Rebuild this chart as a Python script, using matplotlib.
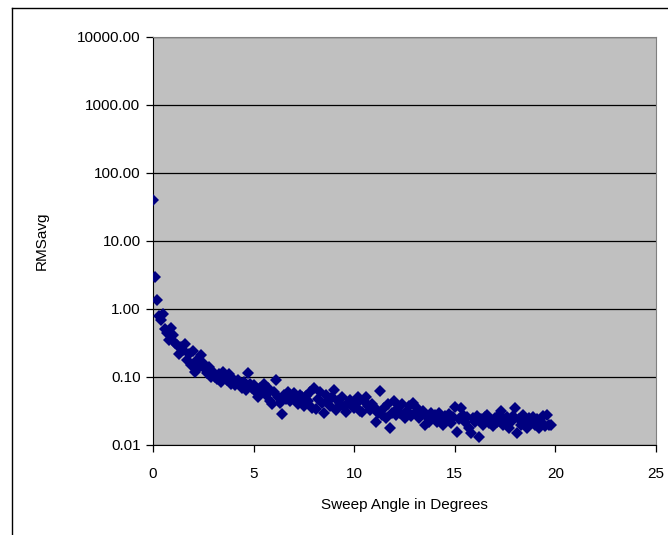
import matplotlib
matplotlib.use("Agg")
from matplotlib import pyplot as plt
from matplotlib.lines import Line2D
from matplotlib.ticker import FixedLocator, FuncFormatter

plt.rcParams['font.family'] = ['Liberation Sans', 'DejaVu Sans']

# sweep angle (degrees) and averaged RMS
sweep_angle = [
    0.0, 0.1, 0.2, 0.3, 0.4, 0.5, 0.6, 0.7, 0.8, 0.9,
    1.0, 1.1, 1.2, 1.3, 1.4, 1.5, 1.6, 1.7, 1.8, 1.9,
    2.0, 2.1, 2.2, 2.3, 2.4, 2.5, 2.6, 2.7, 2.8, 2.9,
    3.0, 3.1, 3.2, 3.3, 3.4, 3.5, 3.6, 3.7, 3.8, 3.9,
    4.0, 4.1, 4.2, 4.3, 4.4, 4.5, 4.6, 4.7, 4.8, 4.9,
    5.0, 5.1, 5.2, 5.3, 5.4, 5.5, 5.6, 5.7, 5.8, 5.9,
    6.0, 6.1, 6.2, 6.3, 6.4, 6.5, 6.6, 6.7, 6.8, 6.9,
    7.0, 7.1, 7.2, 7.3, 7.4, 7.5, 7.6, 7.7, 7.8, 7.9,
    8.0, 8.1, 8.2, 8.3, 8.4, 8.5, 8.6, 8.7, 8.8, 8.9,
    9.0, 9.1, 9.2, 9.3, 9.4, 9.5, 9.6, 9.7, 9.8, 9.9,
    10.0, 10.1, 10.2, 10.3, 10.4, 10.5, 10.6, 10.7, 10.8, 10.9,
    11.0, 11.1, 11.2, 11.3, 11.4, 11.5, 11.6, 11.7, 11.8, 11.9,
    12.0, 12.1, 12.2, 12.3, 12.4, 12.5, 12.6, 12.7, 12.8, 12.9,
    13.0, 13.1, 13.2, 13.3, 13.4, 13.5, 13.6, 13.7, 13.8, 13.9,
    14.0, 14.1, 14.2, 14.3, 14.4, 14.5, 14.6, 14.7, 14.8, 14.9,
    15.0, 15.1, 15.2, 15.3, 15.4, 15.5, 15.6, 15.7, 15.8, 15.9,
    16.0, 16.1, 16.2, 16.3, 16.4, 16.5, 16.6, 16.7, 16.8, 16.9,
    17.0, 17.1, 17.2, 17.3, 17.4, 17.5, 17.6, 17.7, 17.8, 17.9,
    18.0, 18.1, 18.2, 18.3, 18.4, 18.5, 18.6, 18.7, 18.8, 18.9,
    19.0, 19.1, 19.2, 19.3, 19.4, 19.5, 19.6, 19.7, 19.8,
]
rms_avg = [
    40.0, 3.0, 1.35, 0.80, 0.70, 0.85, 0.50, 0.45, 0.35, 0.52,
    0.42, 0.32, 0.30, 0.22, 0.28, 0.25, 0.31, 0.18, 0.22, 0.15,
    0.24, 0.12, 0.18, 0.14, 0.21, 0.16, 0.13, 0.115, 0.14, 0.10,
    0.12, 0.10, 0.095, 0.11, 0.085, 0.12, 0.10, 0.09, 0.11, 0.08,
    0.095, 0.075, 0.09, 0.08, 0.07, 0.085, 0.065, 0.115, 0.08, 0.07,
    0.075, 0.06, 0.051, 0.07, 0.062, 0.08, 0.055, 0.068, 0.045, 0.04,
    0.06, 0.09, 0.05, 0.042, 0.029, 0.055, 0.048, 0.06, 0.045, 0.052,
    0.058, 0.047, 0.04, 0.055, 0.05, 0.038, 0.052, 0.045, 0.06, 0.035,
    0.069, 0.034, 0.048, 0.06, 0.042, 0.03, 0.055, 0.045, 0.038, 0.05,
    0.064, 0.033, 0.045, 0.04, 0.05, 0.036, 0.031, 0.042, 0.046, 0.038,
    0.035, 0.04, 0.05, 0.032, 0.031, 0.045, 0.05, 0.038, 0.033, 0.04,
    0.036, 0.022, 0.03, 0.062, 0.028, 0.035, 0.025, 0.04, 0.018, 0.03,
    0.045, 0.028, 0.035, 0.03, 0.04, 0.025, 0.032, 0.038, 0.027, 0.042,
    0.03, 0.035, 0.025, 0.028, 0.032, 0.02, 0.026, 0.022, 0.03, 0.025,
    0.028, 0.022, 0.03, 0.025, 0.02, 0.027, 0.024, 0.029, 0.021, 0.026,
    0.036, 0.0155, 0.024, 0.035, 0.028, 0.022, 0.026, 0.018, 0.015, 0.025,
    0.022, 0.027, 0.013, 0.024, 0.02, 0.026, 0.028, 0.021, 0.023, 0.019,
    0.025, 0.022, 0.028, 0.032, 0.02, 0.024, 0.026, 0.018, 0.022, 0.027,
    0.035, 0.015, 0.024, 0.02, 0.028, 0.022, 0.018, 0.025, 0.021, 0.026,
    0.02, 0.024, 0.018, 0.022, 0.027, 0.019, 0.028, 0.02, 0.0196,
]

x_ticks = [0, 5, 10, 15, 20, 25]
y_ticks = [0.01, 0.1, 1, 10, 100, 1000, 10000]

fig = plt.figure(figsize=(6.68, 5.35), dpi=100)
W, H = 668, 535
ax = fig.add_axes([153 / W, 1 - 445 / H, (656 - 153) / W, (445 - 37) / H])
ax.set_facecolor('#c0c0c0')

ax.plot(sweep_angle, rms_avg, linestyle='none', marker='D', markersize=6.2,
        color='#000080', markeredgewidth=0, zorder=3)

ax.set_yscale('log')
ax.set_xlim(0, 25)
ax.set_ylim(0.01, 10000)
ax.xaxis.set_major_locator(FixedLocator(x_ticks))
ax.yaxis.set_major_locator(FixedLocator(y_ticks))
ax.yaxis.set_minor_locator(FixedLocator([]))
ax.yaxis.set_major_formatter(FuncFormatter(lambda v, p: f'{v:.2f}'))
ax.grid(axis='y', color='black', linewidth=0.9)
ax.set_axisbelow(True)

ax.tick_params(direction='out', length=5, width=0.9, color='black',
               labelsize=11, pad=4)
ax.tick_params(axis='x', pad=11)
for side in ['top', 'right']:
    ax.spines[side].set_color('#808080')
for side in ['left', 'bottom']:
    ax.spines[side].set_color('black')

ax.set_xlabel('Sweep Angle in Degrees', fontsize=11, labelpad=12)
ax.set_ylabel('RMSavg', fontsize=11, labelpad=20)

# chart area frame (runs off the right and bottom of the image)
fig.add_artist(Line2D([12 / W, 12 / W], [0, 1 - 8 / H], color='black', lw=1))
fig.add_artist(Line2D([12 / W, 1], [1 - 8 / H, 1 - 8 / H], color='black', lw=1))

fig.savefig('out.png', dpi=100)
